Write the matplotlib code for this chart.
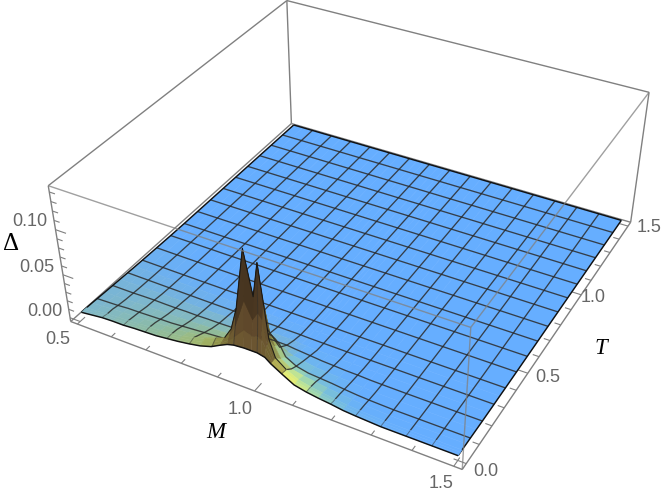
import numpy as np
import matplotlib
matplotlib.use("Agg")
import matplotlib.pyplot as plt
from mpl_toolkits.mplot3d.art3d import Line3DCollection

# ---- data ----
M_VALUES = [.5, .53125, .5625, .59375, .625, .65625, .6875, .71875, .75, .78125, .8125, .84375, .875, .90, .92,
            .9375, .965, .985, 1.0, 1.01, 1.02, 1.035, 1.0625, 1.09375, 1.125, 1.15625, 1.1875, 1.21875, 1.25,
            1.3125, 1.375, 1.4375, 1.5]
T_VALUES = [0, .008, .018, .03, .0625, .09375, .140625, .1875, .234375, .28125, .328125, .375, .46875, .5625,
            .65625, .75, .84375, .9375, 1.03125, 1.125, 1.21875, 1.3125, 1.40625, 1.5]

# Delta (in thousandths) for the first T rows; the surface is flat zero after them
DELTA_NEAR = [
    [4, 5.5, 7, 7.5, 7.5, 8.5, 9, 9.5, 11, 12.5, 14.5, 17, 21, 26.5, 30.5, 32.5, 33.5, 33.5, 33.5, 32.5, 31.5, 26.5, 19.5, 12, 9, 7, 5.5, 3.5, 2.5, 1, 1, 1, 1],
    [4, 5.5, 7, 7.5, 7.5, 8.5, 9, 9.5, 11, 12.5, 14.5, 17, 21, 27.5, 33.5, 40.5, 52.5, 48.5, 50.5, 48.5, 40.5, 27.5, 19.5, 12, 9, 7, 5.5, 3.5, 2.5, 1, 1, 1, 1],
    [4, 5, 6.5, 7, 7.5, 8.5, 9.5, 10, 11, 13, 15, 18, 23, 28.5, 37.5, 50.5, 82.5, 64.5, 74.5, 68.5, 42.5, 27.5, 19, 12, 9, 7, 5, 3.5, 2.5, 1, 1, 1, 1],
    [4, 5, 6, 7, 7.5, 8.5, 9.5, 10, 11, 13, 16, 20, 25, 29.5, 42.5, 67.5, 135.5, 87.5, 125.5, 87.5, 46.5, 27.5, 18.5, 12, 9, 7, 5, 3.5, 2.5, 1, 1, 1, 1],
    [3.8, 4.8, 5.8, 6.3, 6.5, 7.5, 8.5, 9, 10, 11, 13, 15, 18, 20.5, 24.5, 30.5, 52.5, 44.5, 50.5, 44.5, 32.5, 20.5, 13, 10, 8, 6, 4.5, 3.3, 2.2, .8, .8, .8, .8],
    [3.5, 4, 4.5, 5.5, 5.7, 6.2, 6.7, 7, 8, 9, 10, 11, 12, 16.5, 22.5, 30.5, 37.5, 35.5, 35.5, 32.5, 28.5, 16.5, 10, 7, 6, 5, 3.5, 2.3, 1.5, .7, .7, .7, .7],
    [3, 3, 3.3, 3.8, 4, 4.5, 4.5, 4.7, 5.2, 5.7, 6.2, 6.7, 7, 9, 11, 13, 15, 14, 13, 12, 11, 9, 6.8, 4.7, 3.6, 3, 2.2, 1.4, .7, .5, .5, .5, .5],
    [2.6, 2.6, 2.6, 3, 3.2, 3, 3, 3.3, 3.2, 3.6, 3.6, 4, 4.5, 5, 5.5, 6, 6.5, 6.5, 6.5, 6, 5.5, 5, 4, 2.8, 2.2, 1.5, 1.3, .7, .5, .3, .3, .3, .3],
    [2.2, 2.1, 2, 2, 2, 2.3, 2.2, 2.1, 2, 2, 2.4, 2.3, 2.3, 2.2, 3.2, 3.2, 3.2, 3.2, 3.2, 2.6, 2, 1.9, 1.3, 1.2, .6, .5, .4, .4, .3, .2, .2, .2, .2],
    [1.8, 1.7, 1.6, 1.5, 1.4, 1.3, 1.2, 1.1, 1, 1, 1, 1, 1, 1, 1, 1, 1, 1, 1, .8, .7, .6, .5, .4, .3, .3, .2, .2, .2, .1, .1, .1, .1],
    [1.4, 1.3, 1.2, 1.1, 1, .9, .8, .7, .6, .5, .5, .5, .5, .5, .5, .5, .5, .5, .5, .4, .4, .3, .3, .2, .2, .2, .1, .1, .1, .1, .1, .1, .1],
    [1.1, 1, .9, .8, .7, .6, .5, .5, .4, .4, .3, .3, .3, .3, .3, .3, .3, .3, .3, .2, .2, .2, .2, .1, .1, .1, .1, .1, 0, 0, 0, 0, 0],
    [.6, .5, .4, .3, .3, .2, .2, .2, .1, .1, .1, .1, .1, .1, .1, .1, .1, .1, 0, 0, 0, 0, 0, 0, 0, 0, 0, 0, 0, 0, 0, 0, 0],
    [.2, .2, .2, .1, .1, 0, 0, 0, 0, 0, 0, 0, 0, 0, 0, 0, 0, 0, 0, 0, 0, 0, 0, 0, 0, 0, 0, 0, 0, 0, 0, 0, 0],
]

# Surface colouring per vertex: 0 blue, positive towards green/olive/brown, negative towards yellow
TINT_NEAR = [
    [18, 20, 22, 24, 27, 29, 31, 33, 36, 39, 43, 47, 52, 58, 66, 70, 74, 74, 74, 72, 70, 66, -90, -80, -60, -35, -22, -12, -6, -3, 0, 0, 0],
    [18, 20, 22, 24, 27, 29, 31, 33, 36, 39, 43, 47, 52, 58, 68, 74, 80, 78, 80, 76, 72, 66, -88, -76, -55, -32, -20, -11, -5, -3, 0, 0, 0],
    [18, 19, 21, 23, 26, 28, 30, 33, 35, 39, 43, 46, 52, 58, 70, 82, 90, 84, 88, 82, 74, 64, -85, -70, -48, -28, -18, -10, -4, -2, 0, 0, 0],
    [17, 19, 21, 23, 25, 27, 29, 32, 35, 38, 42, 46, 51, 57, 74, 90, 100, 90, 98, 86, 74, 62, -80, -60, -40, -24, -15, -8, -3, -1, 0, 0, 0],
    [16, 17, 19, 21, 23, 25, 27, 29, 32, 35, 39, 43, 47, 53, 60, 60, 60, 60, 60, 55, 50, -60, -55, -38, -26, -14, -8, -4, -1, 0, 0, 0, 0],
    [15, 16, 18, 19, 21, 23, 24, 26, 29, 32, 35, 38, 42, 47, 50, 50, 50, 50, 50, 48, 46, -28, -22, -18, -12, -7, -4, -1, 0, 0, 0, 0, 0],
    [14, 15, 16, 17, 19, 20, 21, 22, 24, 26, 28, 30, 32, 34, 32, 30, 28, 28, 28, 26, 24, -10, -10, -9, -6, -3, -1, 0, 0, 0, 0, 0, 0],
    [13, 14, 14, 15, 16, 16, 17, 17, 18, 19, 20, 21, 22, 22, 20, 18, 14, 14, 14, 12, 10, -4, -4, -3, -2, -1, 0, 0, 0, 0, 0, 0, 0],
    [12, 12, 12, 12, 12, 12, 12, 12, 12, 12, 12, 12, 12, 12, 10, 8, 7, 6, 6, 5, 4, -1, -1, -1, 0, 0, 0, 0, 0, 0, 0, 0, 0],
    [10, 10, 9, 9, 9, 8, 8, 7, 7, 6, 6, 5, 5, 5, 4, 3, 3, 2, 2, 1, 1, 0, 0, 0, 0, 0, 0, 0, 0, 0, 0, 0, 0],
    [8, 8, 7, 6, 6, 5, 5, 4, 4, 3, 2, 2, 2, 1, 1, 0, 0, 0, 0, 0, 0, 0, 0, 0, 0, 0, 0, 0, 0, 0, 0, 0, 0],
    [6, 6, 5, 4, 4, 3, 3, 2, 2, 1, 1, 0, 0, 0, 0, 0, 0, 0, 0, 0, 0, 0, 0, 0, 0, 0, 0, 0, 0, 0, 0, 0, 0],
    [3, 3, 2, 2, 1, 1, 1, 0, 0, 0, 0, 0, 0, 0, 0, 0, 0, 0, 0, 0, 0, 0, 0, 0, 0, 0, 0, 0, 0, 0, 0, 0, 0],
    [1, 1, 1, 0, 0, 0, 0, 0, 0, 0, 0, 0, 0, 0, 0, 0, 0, 0, 0, 0, 0, 0, 0, 0, 0, 0, 0, 0, 0, 0, 0, 0, 0],
]

M_MESH = [.5 + k / 16 for k in range(17)]
T_MESH = [1.5 * k / 16 for k in range(17)]
M_TICK_LABELS = ["0.5", "1.0", "1.5"]
T_TICK_LABELS = ["0.0", "0.5", "1.0", "1.5"]
Z_TICK_LABELS = ["0.00", "0.05", "0.10"]
M_TICKS = [.5, .6, .7, .8, .9, 1.0, 1.1, 1.2, 1.3, 1.4, 1.5]
T_TICKS = [.1 * k for k in range(16)]
Z_TICKS = [.01 * k for k in range(15)]

# ---- layout and style ----
W, H = 664, 498
X0, X1, Y0, Y1, Z0, Z1 = .48, 1.52, -.03, 1.53, -.0045, .1465
CORNER_WORLD = [(X0, Y0, Z0), (X1, Y0, Z0), (X1, Y1, Z0), (X0, Y1, Z0),
                (X0, Y0, Z1), (X1, Y0, Z1), (X1, Y1, Z1), (X0, Y1, Z1)]
CORNER_PIXEL = [(70, 322), (462, 470), (631, 222), (292, 123),
                (48, 186), (471, 327), (649, 92), (287, 1)]
# extra reference points for the camera: surface corners and axis ticks
EXTRA_WORLD = [(.5, 0, .004), (1.5, 0, .001), (1.5, 1.5, 0), (.5, 1.5, 0),
               (.7, Y0, Z0), (1.0, Y0, Z0), (1.3, Y0, Z0)]
EXTRA_PIXEL = [(81, 313), (457, 457), (621, 221), (293, 125),
               (147, 349), (255, 390), (372, 434)]
M_LABEL_POS = [(58, 339), (240, 409), (441, 483)]
T_LABEL_POS = [(486, 471), (548, 378), (593, 297), (649, 228)]
Z_LABEL_POS = [(45, 312), (37, 268), (30, 222)]
STOPS_T = [-100, -85, -60, -35, -15, 0, 10, 20, 30, 40, 50, 60, 70, 80, 90, 100]
STOPS_RGB = [(245, 240, 90), (235, 238, 110), (195, 232, 145), (150, 210, 180), (118, 190, 220), (102, 174, 255),
             (115, 178, 225), (130, 185, 195), (140, 187, 165), (155, 187, 130), (165, 180, 95), (125, 118, 55),
             (112, 95, 50), (105, 80, 48), (75, 55, 33), (40, 30, 20)]
BOX = "#808080"
LABELC = "#666666"
MESH = "#2a2a2a"


def camera(world, pixel):
    world = np.array(world, float)
    world[:, 2] *= 10
    pix = np.array(pixel, float) / 500
    hom = np.column_stack([world, np.ones(len(world))])
    weights = np.ones(len(world))
    for _ in range(8):
        rows = []
        for p, (u, v), s in zip(hom, pix, weights):
            rows.append(np.r_[p, 0 * p, -u * p] / s)
            rows.append(np.r_[0 * p, p, -v * p] / s)
        P = np.linalg.svd(np.array(rows))[2][-1].reshape(3, 4)
        weights = hom @ P[2]
        weights = np.abs(weights) / np.abs(weights).mean()
    P = P.copy()
    P[:, 2] *= 10
    P[:2] *= 500
    if P[2] @ np.array([1, .75, .05, 1]) < 0:
        P = -P
    return np.array([P[0], P[1], [0, 0, 0, -1], P[2]])


M = np.array(M_VALUES)
T = np.array(T_VALUES)
near = np.array(DELTA_NEAR) / 1000
Delta = np.vstack([near, np.zeros((len(T) - len(near), len(M)))])
tint_near = np.array(TINT_NEAR, float)
Tint = np.vstack([tint_near, np.zeros((len(T) - len(tint_near), len(M)))])
stops = np.array(STOPS_RGB) / 255
rgb = np.stack([np.interp(Tint, STOPS_T, stops[:, i]) for i in range(3)], axis=-1)
face = (rgb[:-1, :-1] + rgb[1:, :-1] + rgb[:-1, 1:] + rgb[1:, 1:]) / 4
face = np.concatenate([face, np.ones(face.shape[:2] + (1,))], axis=-1)

fig = plt.figure(figsize=(W / 100, H / 100), dpi=100)
ax = fig.add_axes([0, -(W - H) / 2 / H, 1, W / H], projection="3d", computed_zorder=False)
ax.set_axis_off()
ax.patch.set_alpha(0)
proj = camera(CORNER_WORLD + EXTRA_WORLD, CORNER_PIXEL + EXTRA_PIXEL)
ax.get_proj = lambda: proj


def polyline(xs, ys, zs, **kw):
    pts = np.column_stack(np.broadcast_arrays(xs, ys, zs))
    ax.add_collection3d(Line3DCollection([pts], **kw))


def seg(a, b, **kw):
    polyline(*zip(CORNER_WORLD[a], CORNER_WORLD[b]), **kw)


back = dict(colors=BOX, linewidths=1.0, zorder=1)
for a, b in [(0, 1), (1, 2), (2, 3), (3, 0), (4, 7), (7, 6), (0, 4), (3, 7), (2, 6)]:
    seg(a, b, **back)

tick = dict(colors=BOX, linewidths=.8, zorder=1)
for v in M_TICKS:
    d = .045 if v in (.5, 1.0, 1.5) else .024
    polyline([v, v], [Y0, Y0 + d], Z0, **tick)
for v in T_TICKS:
    major = abs(v * 2 - round(v * 2)) < 1e-6
    d = .03 if major else .016
    polyline([X1, X1 - d], v, Z0, **tick)
for i, v in enumerate(Z_TICKS):
    d = .03 if i % 5 == 0 else .016
    polyline([X0, X0 + d], Y0, v, **tick)

split = T_VALUES.index(.03)
Xg, Yg = np.meshgrid(M, T)
# rear sheet, rear mesh, then front sheet with the spike face, front mesh
ax.plot_surface(Xg[split:], Yg[split:], Delta[split:], facecolors=face[split:], rstride=1, cstride=1,
                shade=False, linewidth=.35, antialiased=True, zorder=2)
line = dict(colors=MESH, linewidths=.95, alpha=.85, zorder=3)
for t in T_MESH[1:-1]:
    if t >= .03:
        j = int(np.argmin(abs(T - t)))
        polyline(M, t, Delta[j], **line)
for m in M_MESH[1:-1]:
    i = int(np.argmin(abs(M - m)))
    polyline(M[i], T[split:], Delta[split:, i], **line)
edge = dict(colors="#111111", linewidths=1.05, zorder=3)
polyline(M, T[-1], Delta[-1], **edge)
polyline(M[0], T, Delta[:, 0], **edge)
polyline(M[-1], T, Delta[:, -1], **edge)

ax.plot_surface(Xg[:split + 1], Yg[:split + 1], Delta[:split + 1], facecolors=face[:split + 1], rstride=1, cstride=1,
                shade=False, linewidth=.35, antialiased=True, zorder=4)
line5 = dict(colors=MESH, linewidths=.7, alpha=.5, zorder=5)
for m in M_MESH[1:-1]:
    i = int(np.argmin(abs(M - m)))
    polyline(M[i], T[:split + 1], Delta[:split + 1, i], **line5)
polyline(M, T[0], Delta[0], colors="#111111", linewidths=1.05, zorder=5)
# dark outline of the two spikes
polyline(M[13:23], T[split], Delta[split, 13:23], colors="#111111", linewidths=.8, alpha=.85, zorder=5)

# front box edges lie over the surface
front = dict(colors=BOX, linewidths=1.0, alpha=.75, zorder=6)
for a, b in [(4, 5), (5, 6), (1, 5)]:
    seg(a, b, **front)

ax.viewLim.intervalx = (0, W)
ax.viewLim.intervaly = (H + (W - H) / 2, -(W - H) / 2)
ax.set_autoscale_on(False)


def label(pos, s, **kw):
    ax.text2D(pos[0], pos[1], s, transform=ax.transData, ha="center", va="center", zorder=8, **kw)


tick_font = dict(color=LABELC, fontsize=13, family="Liberation Sans")
for p, s in zip(M_LABEL_POS, M_TICK_LABELS):
    label(p, s, **tick_font)
for p, s in zip(T_LABEL_POS, T_TICK_LABELS):
    label(p, s, **tick_font)
for p, s in zip(Z_LABEL_POS, Z_TICK_LABELS):
    label(p, s, **tick_font)
axis_font = dict(color="black", fontsize=16.5, family="Liberation Serif")
label((216, 432), "M", style="italic", **axis_font)
label((601, 348), "T", style="italic", **axis_font)
label((11, 244), "Δ", color="black", fontsize=18, family="Liberation Serif")

fig.savefig("out.png", dpi=100)
